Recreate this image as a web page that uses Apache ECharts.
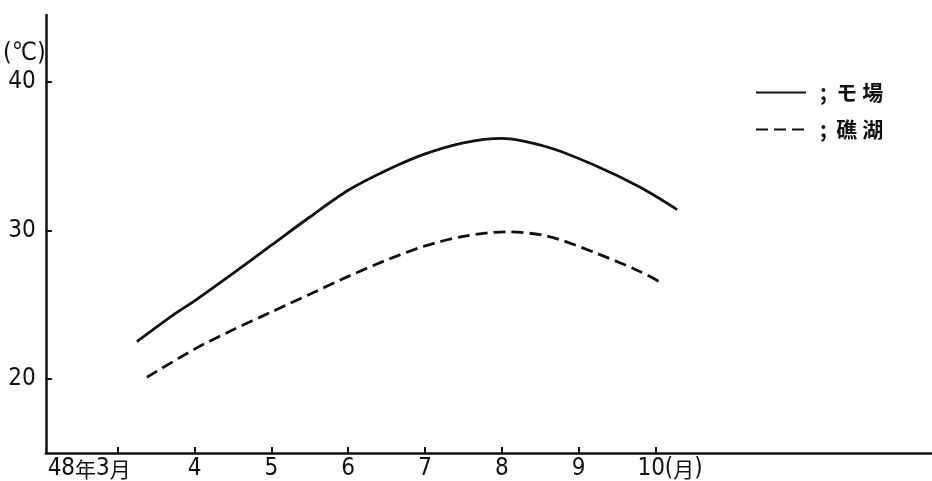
<!DOCTYPE html>
<html>
<head>
<meta charset="utf-8">
<title>水温</title>
<script src="https://cdn.jsdelivr.net/npm/echarts@6.0.0/dist/echarts.min.js"></script>
<style>
  html, body { margin: 0; padding: 0; background: #ffffff; }
  #chart { width: 932px; height: 481px; }
</style>
</head>
<body>
<div id="chart"></div>
<script>
// x: 月 (3 = 48年3月), y: 水温 ℃
var monthTicks = [3, 4, 5, 6, 7, 8, 9, 10];
var tempTicks = [20, 30, 40];

var mobaMonths = [3.25, 3.75, 4, 4.5, 5, 5.5, 6, 6.5, 7, 7.5, 8, 8.6, 9.2, 9.8, 10.28];
var mobaTemps = [22.5, 24.4, 25.25, 27.1, 29.0, 30.9, 32.7, 34.05, 35.15, 35.9, 36.2, 35.6, 34.4, 32.9, 31.4];

var shokoMonths = [3.38, 4, 4.5, 5, 5.5, 6, 6.5, 7, 7.5, 8.05, 8.6, 9.21, 9.81, 10.1];
var shokoTemps = [20.1, 22.0, 23.3, 24.5, 25.7, 26.9, 28.0, 28.95, 29.6, 29.9, 29.6, 28.5, 27.2, 26.4];

var seriesNames = ['モ場', '礁湖'];

function pairs(xs, ys) {
  var out = [];
  for (var i = 0; i < xs.length; i++) out.push([xs[i], ys[i]]);
  return out;
}

var font = "'DejaVu Sans Condensed', 'Noto Sans CJK JP', sans-serif";
var cjk = "'Noto Sans CJK JP', sans-serif";

var chart = echarts.init(document.getElementById('chart'));

var option = {
  backgroundColor: '#ffffff',
  animation: false,
  grid: { left: 45, right: 0, top: 15, bottom: 27, containLabel: false },
  legend: {
    orient: 'vertical',
    left: 755,
    top: 82,
    padding: 0,
    itemWidth: 50,
    itemHeight: 14,
    itemGap: 16,
    data: seriesNames,
    itemStyle: { opacity: 0 },
    formatter: function (name) {
      return ';  ' + name.split('').join(' ');
    },
    textStyle: { fontFamily: cjk, fontSize: 21, fontWeight: 'bold', color: '#111', padding: [0, 0, 0, 9] }
  },
  xAxis: {
    type: 'value',
    min: 2.064,
    max: 13.598,
    splitLine: { show: false },
    axisLine: { lineStyle: { color: '#111', width: 2.5 } },
    axisTick: { inside: true, length: 6, customValues: monthTicks, lineStyle: { color: '#111', width: 2 } },
    axisLabel: {
      customValues: monthTicks,
      margin: 4,
      color: '#111',
      fontFamily: font,
      fontSize: 24,
      formatter: function (v) {
        if (v === 3) return '{d|48}{c|年}{d|3}{e|月}';
        if (v === 10) return '{f|10(}{c|月}{d|)}';
        return String(v);
      },
      rich: {
        d: { fontFamily: font, fontSize: 24, color: '#111' },
        c: { fontFamily: cjk, fontSize: 21, color: '#111' },
        e: { fontFamily: cjk, fontSize: 21, color: '#111', padding: [0, 57, 0, 0] },
        f: { fontFamily: font, fontSize: 24, color: '#111', padding: [0, 0, 0, 29] }
      }
    }
  },
  yAxis: {
    type: 'value',
    min: 15,
    max: 44.51,
    name: '(℃)',
    nameLocation: 'end',
    nameGap: -38,
    nameTextStyle: { fontFamily: font, fontSize: 25, color: '#111', align: 'right', verticalAlign: 'middle' },
    splitLine: { show: false },
    axisLine: { lineStyle: { color: '#111', width: 2.5 } },
    axisTick: { inside: true, length: 6, customValues: tempTicks, lineStyle: { color: '#111', width: 2 } },
    axisLabel: { customValues: tempTicks, margin: 10, color: '#111', fontFamily: font, fontSize: 24 }
  },
  series: [
    {
      name: seriesNames[0],
      type: 'line',
      data: pairs(mobaMonths, mobaTemps),
      smooth: 0.3,
      symbol: 'none',
      lineStyle: { color: '#111', width: 2.8 },
      itemStyle: { color: '#111' }
    },
    {
      name: seriesNames[1],
      type: 'line',
      data: pairs(shokoMonths, shokoTemps),
      smooth: 0.3,
      symbol: 'none',
      lineStyle: { color: '#111', width: 2.8, type: [12, 6] },
      itemStyle: { color: '#111' }
    }
  ]
};

chart.setOption(option);
</script>
</body>
</html>
